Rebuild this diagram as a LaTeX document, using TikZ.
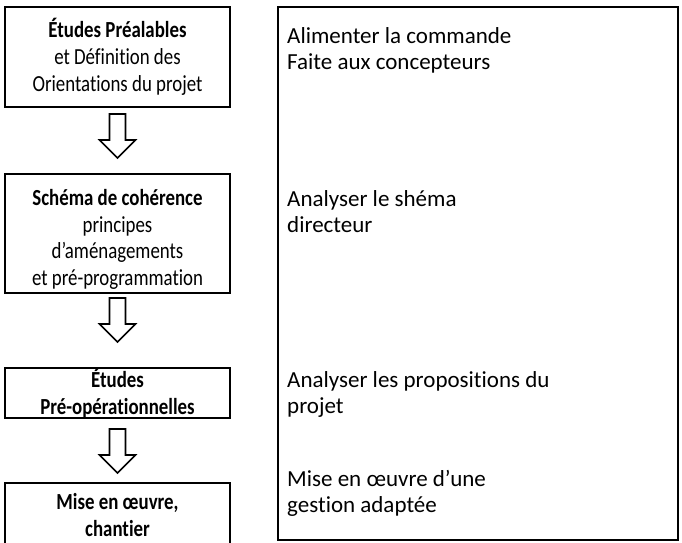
\documentclass[tikz,border=0pt]{standalone}
\usepackage{fontspec}
\setmainfont{Carlito}[Ligatures={TeX,NoCommon}]
\newfontfamily\condfont{Carlito}[Ligatures={TeX,NoCommon}, FakeStretch=0.82]
\usetikzlibrary{calc}
\begin{document}
\begin{tikzpicture}[x=1pt,y=-1pt,
  ctext/.style={align=center, inner sep=0pt, font=\condfont\fontsize{23}{26.7}\selectfont},
  box/.style={draw, line width=2pt, ctext},
  lbl/.style={anchor=north west, align=left, inner sep=0pt, font=\fontsize{23}{26.5}\selectfont},
  blockarrow/.style={draw, line width=1.6pt, fill=white, line join=miter},
  downarr/.pic={\path[blockarrow] (-8,0) -- (-8,26) -- (-18,26) -- (0,44) -- (18,26) -- (8,26) -- (8,0) -- cycle;}]
\useasboundingbox (0,0) rectangle (682,542);
% left column
\node[box, minimum width=225pt, minimum height=100pt] (b1) at (117.5,57)
  {\textbf{Études Préalables}\\et Définition des\\Orientations du projet};
\node[box, minimum width=225pt, minimum height=119pt] (b2) at (117.5,233.5) {};
\node[ctext] (b2t) at ($(b2.center)+(0,6)$)
  {\textbf{Schéma de cohérence}\\principes\\d’aménagements\\et pré-programmation};
\node[box, minimum width=225pt, minimum height=50pt] (b3) at (117.5,393)
  {\textbf{Études}\\\textbf{Pré-opérationnelles}};
\node[box, minimum width=225pt, minimum height=64pt] (b4) at (117.5,515)
  {\textbf{Mise en œuvre,}\\\textbf{chantier}};
% arrows between boxes
\pic at ($(b1.south)+(0,6)$) {downarr};
\pic at ($(b2.south)+(0,4)$) {downarr};
\pic at ($(b3.south)+(0,10)$) {downarr};
% right column
\node[draw, line width=2pt, minimum width=400pt, minimum height=533pt, inner sep=0pt] (r) at (478,273.5) {};
\node[lbl] (t1) at ($(r.north west)+(10,21)$) {Alimenter la commande\\Faite aux concepteurs};
\node[lbl] (t2) at ($(r.north west)+(10,184)$) {Analyser le shéma\\directeur};
\node[lbl] (t3) at ($(r.north west)+(10,365)$) {Analyser les propositions du\\projet};
\node[lbl] (t4) at ($(r.north west)+(10,464)$) {Mise en œuvre d’une\\gestion adaptée};
\end{tikzpicture}
\end{document}
